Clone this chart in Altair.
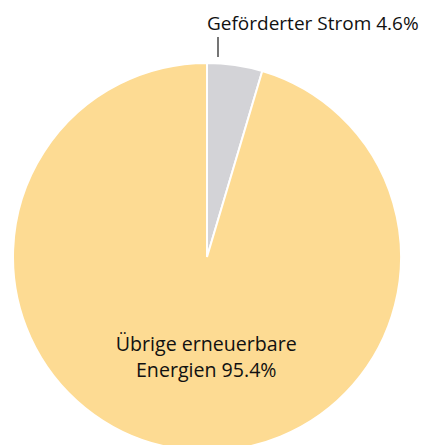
import altair as alt
import pandas as pd

categories = ["Geförderter Strom", "Übrige erneuerbare Energien"]
values = [4.6, 95.4]
labels = ["Geförderter Strom 4.6%", "Übrige erneuerbare\nEnergien 95.4%"]
colors = ["#d3d3d7", "#fddb93"]

df = pd.DataFrame({"cat": categories, "value": values, "label": labels, "idx": [0, 1]})

W, H = 414, 437
CX, CY = 199, 249
R = 194

base = alt.Chart(df).encode(
    theta=alt.Theta("value:Q", stack=True),
    order=alt.Order("idx:Q"),
)

pie = base.mark_arc(outerRadius=R, stroke="white", strokeWidth=2).encode(
    color=alt.Color("cat:N", scale=alt.Scale(domain=categories, range=colors), legend=None),
    x=alt.value(CX), y=alt.value(CY),
)

font = "Open Sans"
lab1 = base.transform_filter(alt.datum.idx == 0).mark_text(
    radius=229, align="left", baseline="alphabetic", dx=-33, fontSize=19, font=font, color="#111111"
).encode(text="label:N", x=alt.value(CX), y=alt.value(CY))

lab2 = base.transform_filter(alt.datum.idx == 1).mark_text(
    radius=99, align="center", baseline="middle", dx=-15, dy=-10, fontSize=19.6, font=font, color="#111111",
    lineBreak="\n", lineHeight=26
).encode(text="label:N", x=alt.value(CX), y=alt.value(CY))

leader = alt.Chart(df).transform_filter(alt.datum.idx == 0).mark_rule(color="#1a1a1a", strokeWidth=1.2).encode(
    x=alt.value(CX + 11), y=alt.value(CY - 220), y2=alt.value(CY - 200)
)

chart = alt.layer(pie, leader, lab1, lab2).properties(
    width=W, height=H, autosize=alt.AutoSizeParams(type="none"), padding=0
).configure_view(stroke=None)

chart.save("out.html", embed_options={"renderer": "svg", "actions": False})
